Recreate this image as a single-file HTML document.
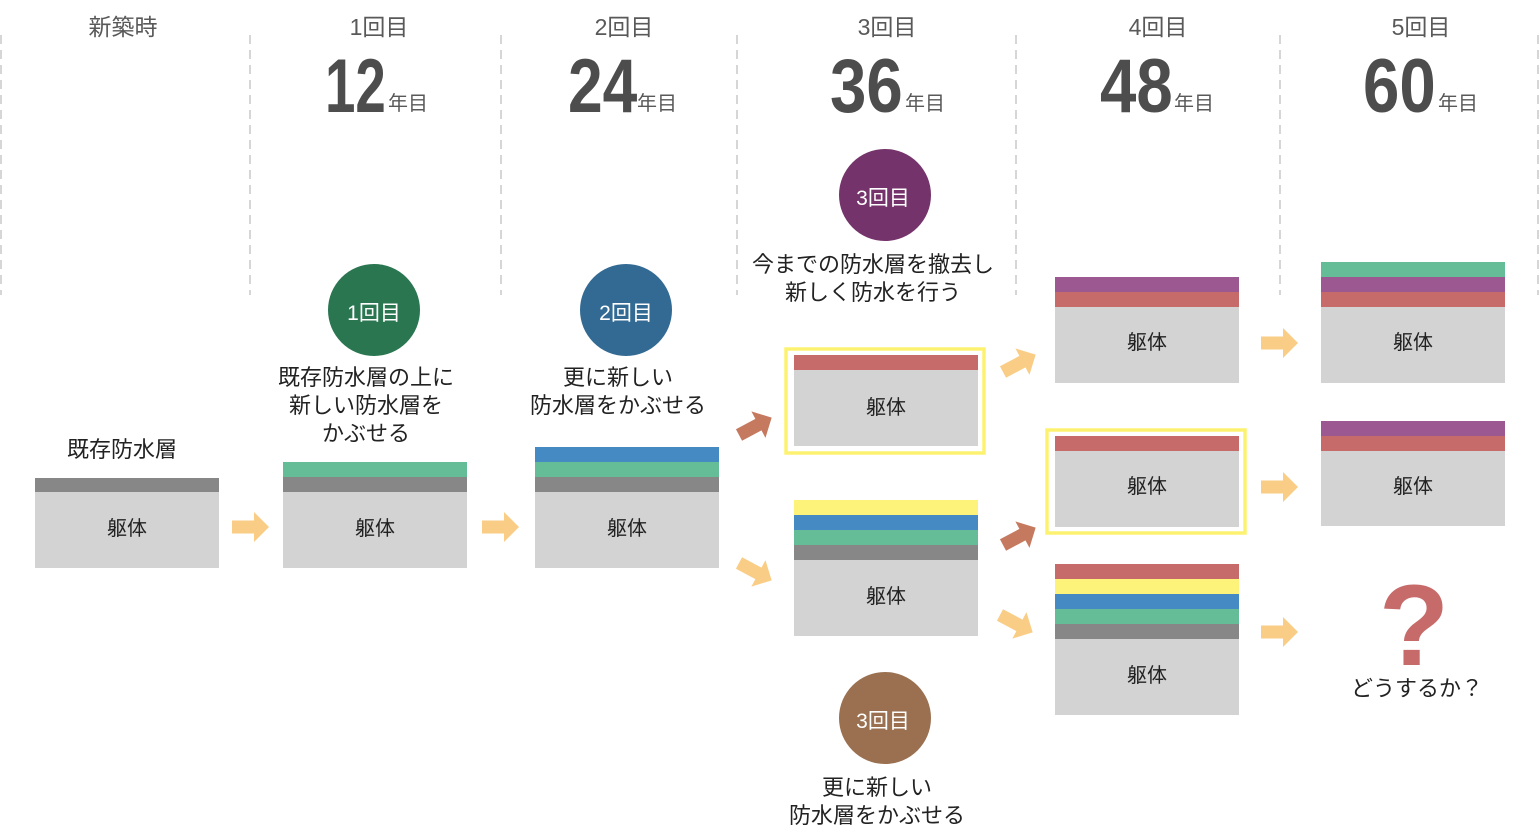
<!DOCTYPE html>
<html><head><meta charset="utf-8"><style>
html,body{margin:0;padding:0;background:#fff}
svg{display:block}
text{font-family:"Liberation Sans","Noto Sans CJK JP",sans-serif}
</style></head><body>
<svg width="1540" height="840" viewBox="0 0 1540 840" xmlns="http://www.w3.org/2000/svg">
<defs>
<path id="ar" d="M0,-6.5 L22,-6.5 L22,-15 L37,0 L22,15 L22,6.5 L0,6.5 Z"/>
</defs>
<g stroke="#d6d6d6" stroke-width="2" stroke-dasharray="9,6">
<line x1="1" y1="35" x2="1" y2="295"/>
<line x1="250" y1="35" x2="250" y2="295"/>
<line x1="501" y1="35" x2="501" y2="295"/>
<line x1="737" y1="35" x2="737" y2="295"/>
<line x1="1016" y1="35" x2="1016" y2="295"/>
<line x1="1280" y1="35" x2="1280" y2="295"/>
<line x1="1538" y1="35" x2="1538" y2="295"/>
</g>
<g fill="#595959" font-size="23" text-anchor="middle">
<text x="123" y="35">新築時</text>
<text x="379" y="35">1回目</text>
<text x="624" y="35">2回目</text>
<text x="887" y="35">3回目</text>
<text x="1158" y="35">4回目</text>
<text x="1421" y="35">5回目</text>
</g>
<g fill="#4d4d4d" font-weight="bold" font-size="76">
<text transform="translate(325,112) scale(0.72,1)">12</text>
<text transform="translate(568,112) scale(0.82,1)">24</text>
<text transform="translate(830,112) scale(0.86,1)">36</text>
<text transform="translate(1100,112) scale(0.86,1)">48</text>
<text transform="translate(1363,112) scale(0.86,1)">60</text>
</g>
<g fill="#595959" font-size="20">
<text x="388" y="110">年目</text>
<text x="637" y="110">年目</text>
<text x="905" y="110">年目</text>
<text x="1174" y="110">年目</text>
<text x="1438" y="110">年目</text>
</g>
<circle cx="374" cy="310" r="46" fill="#2a7650"/>
<circle cx="626" cy="310" r="46" fill="#336a93"/>
<circle cx="885" cy="195" r="46" fill="#74336a"/>
<circle cx="885" cy="718" r="46" fill="#9a7050"/>
<g fill="#fff" font-size="21" text-anchor="middle">
<text x="374" y="320">1回目</text>
<text x="626" y="320">2回目</text>
<text x="883" y="205">3回目</text>
<text x="883" y="728">3回目</text>
</g>
<g fill="#222" font-size="22" text-anchor="middle">
<text x="122" y="457">既存防水層</text>
<text x="366" y="385">既存防水層の上に</text>
<text x="366" y="413">新しい防水層を</text>
<text x="366" y="441">かぶせる</text>
<text x="618" y="385">更に新しい</text>
<text x="618" y="413">防水層をかぶせる</text>
<text x="873" y="272">今までの防水層を撤去し</text>
<text x="873" y="300">新しく防水を行う</text>
<text x="877" y="795">更に新しい</text>
<text x="877" y="823">防水層をかぶせる</text>
<text x="1417" y="696">どうするか？</text>
</g>
<g>
<rect x="35" y="478" width="184" height="15" fill="#878787"/>
<rect x="35" y="492" width="184" height="76" fill="#d3d3d3"/>
<rect x="283" y="462" width="184" height="15" fill="#64bd96"/>
<rect x="283" y="477" width="184" height="15" fill="#878787"/>
<rect x="283" y="492" width="184" height="76" fill="#d3d3d3"/>
<rect x="535" y="447" width="184" height="15" fill="#458ac2"/>
<rect x="535" y="462" width="184" height="15" fill="#64bd96"/>
<rect x="535" y="477" width="184" height="15" fill="#878787"/>
<rect x="535" y="492" width="184" height="76" fill="#d3d3d3"/>
<rect x="786" y="349" width="198" height="104" fill="none" stroke="#fdf270" stroke-width="3.5"/>
<rect x="794" y="355" width="184" height="15" fill="#c76b6a"/>
<rect x="794" y="370" width="184" height="76" fill="#d3d3d3"/>
<rect x="794" y="500" width="184" height="15" fill="#fdf27a"/>
<rect x="794" y="515" width="184" height="15" fill="#458ac2"/>
<rect x="794" y="530" width="184" height="15" fill="#64bd96"/>
<rect x="794" y="545" width="184" height="15" fill="#878787"/>
<rect x="794" y="560" width="184" height="76" fill="#d3d3d3"/>
<rect x="1055" y="277" width="184" height="15" fill="#9b5891"/>
<rect x="1055" y="292" width="184" height="15" fill="#c76b6a"/>
<rect x="1055" y="307" width="184" height="76" fill="#d3d3d3"/>
<rect x="1047" y="430" width="198" height="103" fill="none" stroke="#fdf270" stroke-width="3.5"/>
<rect x="1055" y="436" width="184" height="15" fill="#c76b6a"/>
<rect x="1055" y="451" width="184" height="76" fill="#d3d3d3"/>
<rect x="1055" y="564" width="184" height="15" fill="#c76b6a"/>
<rect x="1055" y="579" width="184" height="15" fill="#fdf27a"/>
<rect x="1055" y="594" width="184" height="15" fill="#458ac2"/>
<rect x="1055" y="609" width="184" height="15" fill="#64bd96"/>
<rect x="1055" y="624" width="184" height="15" fill="#878787"/>
<rect x="1055" y="639" width="184" height="76" fill="#d3d3d3"/>
<rect x="1321" y="262" width="184" height="15" fill="#64bd96"/>
<rect x="1321" y="277" width="184" height="15" fill="#9b5891"/>
<rect x="1321" y="292" width="184" height="15" fill="#c76b6a"/>
<rect x="1321" y="307" width="184" height="76" fill="#d3d3d3"/>
<rect x="1321" y="421" width="184" height="15" fill="#9b5891"/>
<rect x="1321" y="436" width="184" height="15" fill="#c76b6a"/>
<rect x="1321" y="451" width="184" height="75" fill="#d3d3d3"/>
</g>
<g fill="#222" font-size="20" text-anchor="middle">
<text x="127" y="535">躯体</text>
<text x="375" y="535">躯体</text>
<text x="627" y="535">躯体</text>
<text x="886" y="414">躯体</text>
<text x="886" y="603">躯体</text>
<text x="1147" y="349">躯体</text>
<text x="1147" y="493">躯体</text>
<text x="1147" y="682">躯体</text>
<text x="1413" y="349">躯体</text>
<text x="1413" y="493">躯体</text>
</g>
<text x="1414" y="665" font-size="115" font-weight="bold" fill="#c76b6a" text-anchor="middle">?</text>
<g fill="#f9cd85">
<use href="#ar" transform="translate(232,527)"/>
<use href="#ar" transform="translate(482,527)"/>
<use href="#ar" transform="translate(1261,343)"/>
<use href="#ar" transform="translate(1261,487)"/>
<use href="#ar" transform="translate(1261,632)"/>
<use href="#ar" transform="translate(739,563) rotate(28)"/>
<use href="#ar" transform="translate(1003,372) rotate(-28)"/>
<use href="#ar" transform="translate(1000,615) rotate(28)"/>
</g>
<g fill="#c57a60">
<use href="#ar" transform="translate(739,435) rotate(-28)"/>
<use href="#ar" transform="translate(1003,545) rotate(-28)"/>
</g>
</svg>
</body></html>
